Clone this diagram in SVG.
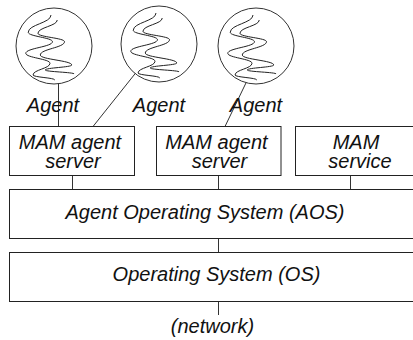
<svg xmlns="http://www.w3.org/2000/svg" width="413" height="340" viewBox="0 0 413 340">
<style>
.box{fill:#fff;stroke:#222;stroke-width:1}
.ag{fill:#fff;stroke:#333;stroke-width:1}
.sq{fill:none;stroke:#222;stroke-width:1;vector-effect:non-scaling-stroke}
.ln{fill:none;stroke:#333;stroke-width:1}
text{font-family:"Liberation Sans",Arial,sans-serif;font-style:italic;font-size:20px;fill:#111;text-anchor:middle}
</style>
<defs>
<g id="squiggle" transform="translate(-4,0) scale(1.45,1) translate(4,0)">
<path class="sq" d="M -3.3,-31 C -3.3,-23 -19,-21.5 -19,-13.7 C -19,-9.5 -2.3,-8.5 -2.3,-4.3 C -2.3,0.9 -20.7,2.1 -20.7,7.3 C -20.7,11.8 -4,12.8 -4,17.3 C -4,22.6 -15.7,23.7 -15.7,29 C -15.7,31.3 -0.7,31.7 -0.7,34"/>
<path class="sq" d="M 1,-26 C 1,-20 -12.3,-18.7 -12.3,-12.7 C -12.3,-8.9 6,-8.1 6,-4.3 C 6,1.7 -10.7,3 -10.7,9 C -10.7,13.5 11,14.5 11,19 C 11,21.3 -7.3,21.7 -7.3,24 C -7.3,25.8 12.7,26.2 12.7,28"/>
</g>
</defs>
<rect width="413" height="340" fill="#fff"/>
<g id="connectors">
<line class="ln" x1="58.5" y1="126.5" x2="58.5" y2="60"/>
<line class="ln" x1="93" y1="126.5" x2="146" y2="60"/>
<line class="ln" x1="225" y1="126.5" x2="257" y2="60"/>
<line class="ln" x1="72.5" y1="175.5" x2="72.5" y2="189.5"/>
<line class="ln" x1="218.5" y1="175.5" x2="218.5" y2="189.5"/>
<line class="ln" x1="350.5" y1="175.5" x2="350.5" y2="189.5"/>
<line class="ln" x1="218.5" y1="238.5" x2="218.5" y2="252.5"/>
<line class="ln" x1="218.5" y1="301.5" x2="218.5" y2="315"/>
</g>
<g id="agent1">
<circle class="ag" cx="54" cy="46" r="38"/>
<use href="#squiggle" x="54" y="46"/>
<text x="53" y="112">Agent</text>
</g>
<g id="agent2">
<circle class="ag" cx="159" cy="44" r="38"/>
<use href="#squiggle" x="159" y="44"/>
<text x="159" y="112">Agent</text>
</g>
<g id="agent3">
<circle class="ag" cx="256" cy="46" r="38"/>
<use href="#squiggle" x="256" y="46"/>
<text x="256" y="112">Agent</text>
</g>
<g id="mam-agent-server-1">
<rect class="box" x="9.5" y="126.5" width="125" height="49"/>
<text x="70" y="149">MAM agent</text>
<text x="73" y="167.5">server</text>
</g>
<g id="mam-agent-server-2">
<rect class="box" x="156.5" y="126.5" width="124.5" height="49"/>
<text x="216.5" y="149">MAM agent</text>
<text x="219.5" y="167.5">server</text>
</g>
<g id="mam-service">
<rect class="box" x="295.5" y="126.5" width="130" height="49"/>
<text x="356" y="149">MAM</text>
<text x="360" y="167.5">service</text>
</g>
<g id="aos">
<rect class="box" x="9.5" y="189.5" width="416" height="49"/>
<text x="205" y="218.5">Agent Operating System (AOS)</text>
</g>
<g id="os">
<rect class="box" x="9.5" y="252.5" width="416" height="49"/>
<text x="216.5" y="281">Operating System (OS)</text>
</g>
<g id="network">
<text x="212.5" y="333">(network)</text>
</g>
</svg>
